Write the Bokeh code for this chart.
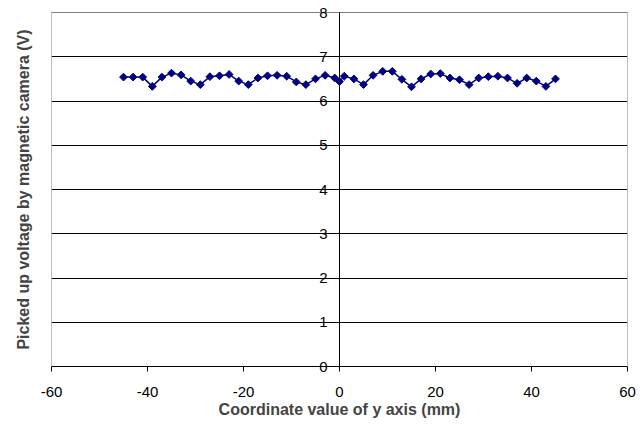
from bokeh.plotting import figure
from bokeh.models import LinearAxis, FixedTicker, ColumnDataSource, Grid
from bokeh.core.properties import value
from bokeh.embed import file_html
from bokeh.resources import INLINE

# data
x_mm = [-45, -43, -41, -39, -37, -35, -33, -31, -29, -27, -25, -23, -21, -19, -17, -15,
        -13, -11, -9, -7, -5, -3, -1, 0, 1, 3, 5, 7, 9, 11, 13, 15, 17, 19, 21, 23,
        25, 27, 29, 31, 33, 35, 37, 39, 41, 43, 45]
voltage = [6.54, 6.54, 6.54, 6.33, 6.54, 6.63, 6.59, 6.45, 6.37, 6.55, 6.57, 6.60, 6.45,
           6.37, 6.52, 6.57, 6.58, 6.56, 6.43, 6.37, 6.50, 6.58, 6.52, 6.44, 6.56, 6.50,
           6.37, 6.58, 6.67, 6.67, 6.49, 6.32, 6.50, 6.61, 6.62, 6.52, 6.48, 6.37, 6.52,
           6.55, 6.56, 6.52, 6.40, 6.52, 6.45, 6.33, 6.50]
x_ticks = [-60, -40, -20, 0, 20, 40, 60]
x_tick_labels = ["-60", "-40", "-20", "0", "20", "40", "60"]
y_ticks = [0, 1, 2, 3, 4, 5, 6, 7, 8]
y_tick_labels = ["0", "1", "2", "3", "4", "5", "6", "7", "8"]

FONT = "Liberation Sans"

# plot area geometry (pixels); frame padded vertically so edge labels are not clipped
FRAME_W = 576
PLOT_H = 354
PAD_PX = 8
px_per_unit = PLOT_H / (y_ticks[-1] - y_ticks[0])
pad = PAD_PX / px_per_unit

p = figure(frame_width=FRAME_W, frame_height=PLOT_H + 2 * PAD_PX,
           x_range=(x_ticks[0], x_ticks[-1]),
           y_range=(y_ticks[0] - pad, y_ticks[-1] + pad),
           output_backend="svg", toolbar_location=None,
           min_border_left=51, min_border_right=13, min_border_top=4, min_border_bottom=40,
           x_axis_location=None, y_axis_location=None)
p.grid.grid_line_color = None
p.background_fill_color = "white"
p.border_fill_color = "white"
p.outline_line_color = None

# x axis (below): labels only, ticks reach up to y = 0
xa = LinearAxis(ticker=FixedTicker(ticks=x_ticks))
xa.major_label_overrides = dict(zip(x_ticks, x_tick_labels))
xa.axis_line_color = None
xa.major_tick_line_color = "black"
xa.major_tick_in = PAD_PX
xa.major_tick_out = -3
xa.minor_tick_line_color = None
xa.major_label_standoff = 12
xa.major_label_text_font = FONT
xa.major_label_text_font_size = "15px"
xa.major_label_text_color = "black"
xa.axis_label = "Coordinate value of y axis (mm)"
xa.axis_label_text_font = FONT
xa.axis_label_text_font_style = "bold"
xa.axis_label_text_font_size = "16px"
xa.axis_label_standoff = 1
p.add_layout(xa, "below")

# left axis only carries the title
ya = LinearAxis(ticker=FixedTicker(ticks=[]))
ya.axis_line_color = None
ya.major_tick_line_color = None
ya.minor_tick_line_color = None
ya.major_tick_out = 0
ya.major_label_standoff = 0
ya.axis_label = "Picked up voltage by magnetic camera (V)"
ya.axis_label_text_font = FONT
ya.axis_label_text_font_style = "bold"
ya.axis_label_text_font_size = "16px"
ya.axis_label_standoff = 20
p.add_layout(ya, "left")

# horizontal gridlines
g = Grid(dimension=1, ticker=FixedTicker(ticks=y_ticks))
g.grid_line_color = "black"
g.grid_line_width = 1
p.add_layout(g)

# plot-area border (grey), x axis line and value axis at x = 0 (black)
p.quad(left=[x_ticks[0]], right=[x_ticks[-1]], bottom=[y_ticks[0]], top=[y_ticks[-1]],
       fill_color=None, line_color="#808080", line_width=1)
p.segment(x0=[x_ticks[0], 0], y0=[y_ticks[0], y_ticks[0]],
          x1=[x_ticks[-1], 0], y1=[y_ticks[0], y_ticks[-1]],
          line_color="black", line_width=1)

# y tick labels next to the x = 0 axis
lab = ColumnDataSource(dict(x=[0] * len(y_ticks), y=y_ticks, t=y_tick_labels))
p.text(x="x", y="y", text="t", source=lab, x_offset=-12, text_align="right",
       text_baseline="middle", text_font=value(FONT), text_font_size="15px",
       text_color="black")

src = ColumnDataSource(dict(x=x_mm, y=voltage))
p.line("x", "y", source=src, line_color="#000080", line_width=1.5)
p.scatter("x", "y", source=src, marker="square", angle=0.785398, size=5.5,
          fill_color="#000080", line_color="#000080")

open("out.html", "w").write(file_html(p, INLINE))
